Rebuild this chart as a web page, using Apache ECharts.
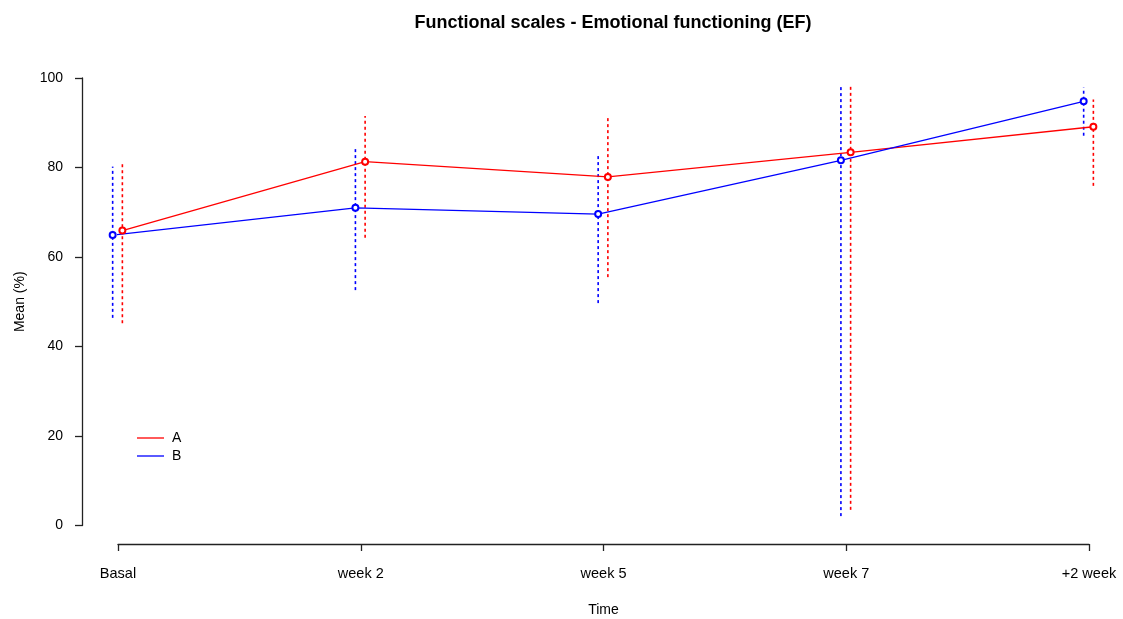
<!DOCTYPE html>
<html>
<head>
<meta charset="utf-8">
<title>Functional scales - Emotional functioning (EF)</title>
<script src="https://cdn.jsdelivr.net/npm/echarts@6/dist/echarts.min.js"></script>
<style>
  html, body { margin: 0; padding: 0; background: #fff; }
  #chart { width: 1123px; height: 619px; }
</style>
</head>
<body>
<div id="chart"></div>
<script>
// Time points
const categories = ['Basal', 'week 2', 'week 5', 'week 7', '+2 week'];
const yTicks = [0, 20, 40, 60, 80, 100];

// Group A: mean and interval limits (%)
const meanA = [65.9, 81.3, 77.9, 83.4, 89.1];
const lowA  = [45.2, 64.3, 55.5, 3.5, 75.9];
const highA = [81.2, 91.5, 91.2, 98.7, 95.2];

// Group B: mean and interval limits (%)
const meanB = [64.9, 71.0, 69.6, 81.6, 94.8];
const lowB  = [46.4, 52.6, 49.7, 2.1, 87.1];
const highB = [80.2, 84.3, 83.2, 98.3, 97.9];

const FONT = "'Liberation Sans', Arial, sans-serif";
const RED = '#ff0000';
const BLUE = '#0000ff';
// Small horizontal dodge so the two groups don't overlap
const DODGE_A = 0.018;
const DODGE_B = -0.022;

function points(means, dodge) {
  return means.map((v, i) => [i + 1 + dodge, v]);
}
function bars(lows, highs, dodge) {
  return lows.map((lo, i) => [i + 1 + dodge, lo, highs[i]]);
}
function errorBarSeries(name, color, data) {
  return {
    name: name + ' range',
    type: 'custom',
    clip: false,
    z: 1,
    silent: true,
    encode: { x: 0, y: [1, 2] },
    data: data,
    renderItem: function (params, api) {
      const p1 = api.coord([api.value(0), api.value(1)]);
      const p2 = api.coord([api.value(0), api.value(2)]);
      return {
        type: 'line',
        shape: { x1: p1[0], y1: p1[1], x2: p2[0], y2: p2[1] },
        style: { stroke: color, lineWidth: 1.6, lineDash: [3, 3], fill: null }
      };
    }
  };
}
function meanSeries(name, color, data) {
  return {
    name: name,
    type: 'line',
    clip: false,
    z: 3,
    data: data,
    symbol: 'emptyCircle',
    symbolSize: 6,
    lineStyle: { color: color, width: 1.3 },
    itemStyle: { color: color, borderColor: color, borderWidth: 1.3 },
    emphasis: { disabled: true }
  };
}

const chart = echarts.init(document.getElementById('chart'), null, { renderer: 'canvas' });
chart.setOption({
  animation: false,
  backgroundColor: '#ffffff',
  textStyle: { fontFamily: FONT, color: '#000' },
  title: {
    text: 'Functional scales - Emotional functioning (EF)',
    left: 608,
    textAlign: 'center',
    top: 9,
    textStyle: { fontFamily: FONT, fontSize: 18, fontWeight: 'bold', color: '#000' }
  },
  legend: {
    data: ['A', 'B'],
    orient: 'vertical',
    left: 132,
    top: 426,
    icon: 'rect',
    itemWidth: 27,
    itemHeight: 1.3,
    itemGap: 4,
    selectedMode: false,
    itemStyle: { borderWidth: 0 },
    textStyle: { fontFamily: FONT, fontSize: 14, color: '#000', lineHeight: 14, padding: [0, 0, 0, 3] }
  },
  grid: {
    left: 118, top: 78, width: 971, height: 447.5,
    containLabel: false,
    outerBoundsMode: 'none'
  },
  xAxis: {
    type: 'value',
    min: 1,
    max: 5,
    interval: 1,
    offset: 18.5,
    name: 'Time',
    nameLocation: 'middle',
    nameGap: 59,
    nameTextStyle: { fontFamily: FONT, fontSize: 14, color: '#000' },
    axisLine: { show: true, onZero: false, lineStyle: { color: '#222', width: 1.3 } },
    axisTick: { show: true, length: 7, lineStyle: { color: '#222', width: 1.3 } },
    axisLabel: {
      margin: 22,
      fontFamily: FONT,
      fontSize: 14.5,
      color: '#000',
      formatter: function (v) { return categories[Math.round(v) - 1] || ''; }
    },
    splitLine: { show: false }
  },
  yAxis: {
    type: 'value',
    min: yTicks[0],
    max: yTicks[yTicks.length - 1],
    interval: yTicks[1] - yTicks[0],
    offset: 36,
    name: 'Mean (%)',
    nameLocation: 'middle',
    nameGap: 55,
    nameTextStyle: { fontFamily: FONT, fontSize: 14, color: '#000' },
    axisLine: { show: true, onZero: false, lineStyle: { color: '#222', width: 1.3 } },
    axisTick: { show: true, length: 7, lineStyle: { color: '#222', width: 1.3 } },
    axisLabel: { margin: 19, fontFamily: FONT, fontSize: 14, color: '#000' },
    splitLine: { show: false }
  },
  series: [
    errorBarSeries('A', RED, bars(lowA, highA, DODGE_A)),
    errorBarSeries('B', BLUE, bars(lowB, highB, DODGE_B)),
    meanSeries('A', RED, points(meanA, DODGE_A)),
    meanSeries('B', BLUE, points(meanB, DODGE_B))
  ]
});
</script>
</body>
</html>
